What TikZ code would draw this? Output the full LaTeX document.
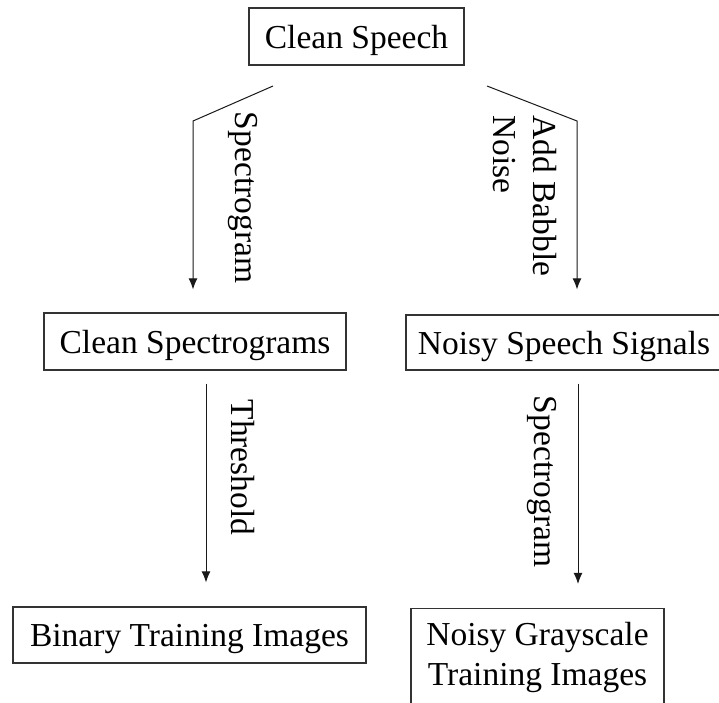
\documentclass[tikz,border=0pt]{standalone}
\usepackage{fontspec}
\setmainfont{Liberation Serif}
\usetikzlibrary{arrows.meta}
\begin{document}
\begin{tikzpicture}[x=1pt,y=-1pt,
  font=\fontsize{33.5}{40}\selectfont,
  box/.style={draw=black!80,line width=1.2pt,inner sep=0pt,align=center},
  oneline/.style={text height=23pt,text depth=0pt},
  arr/.style={draw=black!90,line width=1pt,-{Latex[length=11pt,width=9pt]}},
  lab/.style={rotate=-90,inner sep=0pt,align=left}]
  \path[use as bounding box,clip] (0,0) rectangle (719,702);

  % process boxes
  \node[box,oneline,minimum width=215pt,minimum height=57pt] (cs)  at (356.5,36.5) {Clean Speech};
  \node[box,oneline,minimum width=302pt,minimum height=57pt] (csp) at (195,341.5) {Clean Spectrograms};
  \node[box,oneline,minimum width=316pt,minimum height=55pt] (nss) at (564,342.5) {Noisy Speech Signals};
  \node[box,oneline,minimum width=353pt,minimum height=56pt] (bti) at (189.5,635) {Binary Training Images};
  \node[box,minimum width=253pt,minimum height=97pt] (ngt) at (537.5,657) {Noisy Grayscale\\Training Images};

  % bent connectors out of the top box
  \coordinate (l0) at (273,86);
  \coordinate (l1) at (193,121);
  \coordinate (r0) at (487,86);
  \coordinate (r1) at (577,121);
  \draw[arr,shorten >=23pt] (l0) -- (l1) -- (l1 |- csp.north);
  \draw[arr,shorten >=25pt] (r0) -- (r1) -- (r1 |- nss.north);

  % straight connectors to the bottom row
  \draw[arr,shorten <=13pt,shorten >=24pt] (206,0 |- csp.south) -- (206,0 |- bti.north);
  \draw[arr,shorten <=13pt,shorten >=24pt] (578,0 |- nss.south) -- (578,0 |- ngt.north);

  % edge labels
  \node[lab] (t1) at (243,197.5) {Spectrogram};
  \node[lab] (t2) at (525,196) {Add Babble\\Noise};
  \node[lab] (t3) at (243,467.5) {Threshold};
  \node[lab] (t4) at (542,481.5) {Spectrogram};
\end{tikzpicture}
\end{document}
